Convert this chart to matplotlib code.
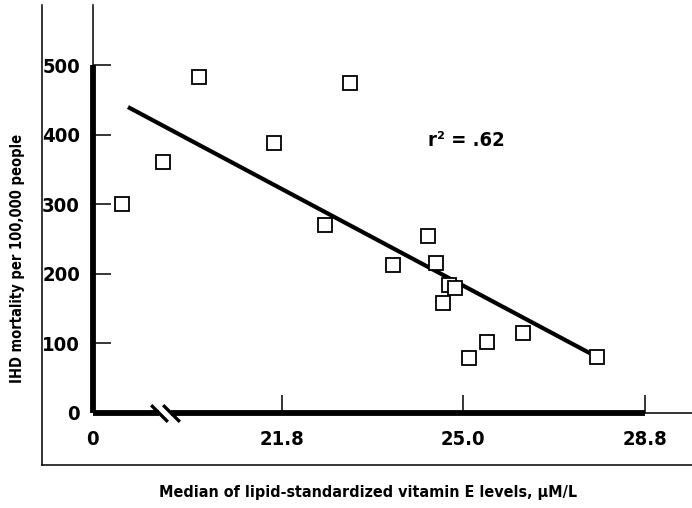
import numpy as np
import matplotlib
matplotlib.use("Agg")
import matplotlib.pyplot as plt
from matplotlib.lines import Line2D

# ---- data ----
vit_e = [3.39, 8.11, 12.25, 20.87, 22.56, 23.00, 23.76, 24.38, 24.52, 24.64,
         24.75, 24.86, 25.13, 25.50, 26.25, 27.80]
ihd = [301, 361, 483, 388, 270, 475, 213, 255, 216, 158, 184, 180, 79, 102, 115, 81]
fit_x = [4.08, 27.65]
fit_y = [440, 86]
x_ticks = [0, 21.8, 25.0, 28.8]
x_tick_labels = ["0", "21.8", "25.0", "28.8"]
y_ticks = [0, 100, 200, 300, 400, 500]
y_tick_labels = ["0", "100", "200", "300", "400", "500"]
r2_text = "r² = .62"
xlabel = "Median of lipid-standardized vitamin E levels, µM/L"
ylabel = "IHD mortality per 100,000 people"

# ---- broken (piecewise) x scale: equal spacing between the labelled ticks ----
data_anchor = np.array([-5.0, 0.0, 21.8, 25.0, 28.8, 32.0])
pos_anchor = np.array([-43.5, 0.0, 189.5, 370.5, 552.5, 705.8])


def fwd(x):
    return np.interp(x, data_anchor, pos_anchor)


def inv(p):
    return np.interp(p, pos_anchor, data_anchor)


plt.rcParams["font.family"] = ["DejaVu Sans"]
plt.rcParams["font.stretch"] = "condensed"

W, H = 692, 508
fig = plt.figure(figsize=(W / 100, H / 100), dpi=100)
ax_l, ax_b, ax_r, ax_t = 92.5, 413, 692, 5
ax = fig.add_axes([ax_l / W, (H - ax_b) / H, (ax_r - ax_l) / W, (ax_b - ax_t) / H])
ax.set_xscale("function", functions=(fwd, inv))
ax.set_xlim(0, inv(ax_r - ax_l))
ax.set_ylim(0, (ax_b - ax_t) / 0.6954)

# outer frame (thin lines)
fig.add_artist(Line2D([42 / W, 42 / W], [(H - 5) / H, (H - 465) / H], color="black", lw=1.1))
fig.add_artist(Line2D([42 / W, 1.0], [(H - 465) / H, (H - 465) / H], color="black", lw=1.1))

# spines
for s in ["top", "right", "bottom"]:
    ax.spines[s].set_visible(False)
ax.spines["left"].set_bounds(0, 500)
ax.spines["left"].set_linewidth(4.2)
ax.spines["left"].set_capstyle("butt")
ax.axvline(0, ymin=500 / ax.get_ylim()[1], ymax=1, color="black", lw=1.1, clip_on=False)

# bottom axis with a break
brk_lo, brk_hi = 7.65, 9.03
ax.plot([0, brk_lo], [0, 0], color="black", lw=4.2, solid_capstyle="butt", clip_on=False, zorder=3)
ax.plot([brk_hi, x_ticks[-1]], [0, 0], color="black", lw=4.2, solid_capstyle="butt", clip_on=False, zorder=3)
ax.plot([x_ticks[-1], ax.get_xlim()[1]], [0, 0], color="black", lw=1.1, clip_on=False, zorder=3)
ax.plot([brk_lo, brk_hi], [0, 0], ls="none", marker=[(-1, 1), (1, -1)], ms=12,
        mew=2.4, color="black", clip_on=False, zorder=4)

# ticks
ax.set_xticks(x_ticks)
ax.set_xticklabels(x_tick_labels)
ax.set_yticks(y_ticks)
ax.set_yticklabels(y_tick_labels)
ax.tick_params(axis="both", direction="in", length=13, width=1.1, color="black")
ax.tick_params(axis="y", pad=9, labelsize=14.5)
ax.tick_params(axis="x", pad=12, labelsize=14.5)
for lab in ax.get_xticklabels() + ax.get_yticklabels():
    lab.set_fontweight("bold")
    lab.set_fontstretch("condensed")

# data
ax.plot(fit_x, fit_y, color="black", lw=3.0, solid_capstyle="butt", zorder=2)
ax.plot(vit_e, ihd, ls="none", marker="s", ms=10, mfc="white", mec="black", mew=1.3,
        zorder=5, clip_on=False)

ax.text(inv(428 - ax_l), 392, r2_text, fontsize=14.5, fontweight="bold", ha="left", va="center")

fig.text(368 / W, (H - 493) / H, xlabel, fontsize=11.5, fontweight="bold", ha="center", va="center")
fig.text(18 / W, (H - 258) / H, ylabel, fontsize=10.5, fontweight="bold", ha="center", va="center",
         rotation=90)

fig.savefig("out.png", dpi=100, facecolor="white")
